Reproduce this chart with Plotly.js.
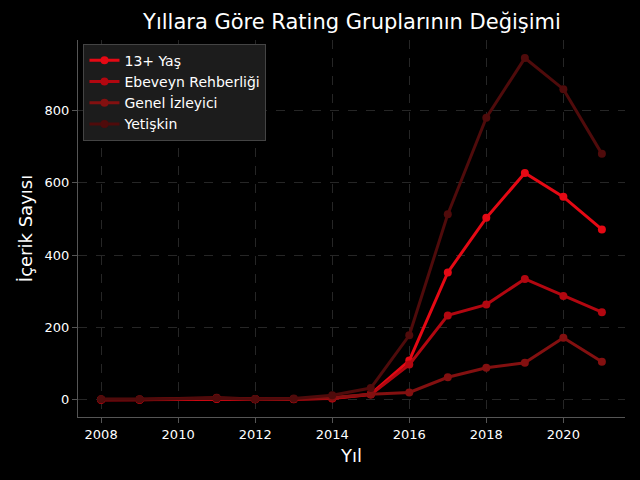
<!DOCTYPE html>
<html>
<head>
<meta charset="utf-8">
<script src="https://cdn.plot.ly/plotly-3.0.1.min.js"></script>
<style>body{margin:0;background:#000}</style>
</head>
<body>
<div id="chart" style="width:640px;height:480px"></div>
<script>
const years = [2008, 2009, 2011, 2012, 2013, 2014, 2015, 2016, 2017, 2018, 2019, 2020, 2021];
const teen = [0, 0, 2, 1, 1, 4, 15, 108, 352, 503, 627, 561, 471];
const parental = [0, 0, 3, 1, 2, 3, 14, 97, 233, 263, 334, 287, 242];
const general = [1, 1, 5, 2, 2, 6, 15, 20, 62, 88, 102, 171, 105];
const adult = [1, 1, 4, 2, 3, 12, 32, 178, 513, 780, 945, 859, 680];

const names = ['13+ Yaş', 'Ebeveyn Rehberliği', 'Genel İzleyici', 'Yetişkin'];
const series = [teen, parental, general, adult];
const colors = ['#e50914', '#b20710', '#831010', '#4f0b0b'];

const data = series.map((s, i) => ({
    x: years, y: s, name: names[i], type: 'scatter', mode: 'lines+markers',
    line: {color: colors[i], width: 3}, marker: {color: colors[i], size: 8}
}));

const grid = {showgrid: true, gridcolor: '#262626', griddash: 'dash', zeroline: false,
    color: '#fff', showline: true, linecolor: '#555', ticks: 'outside', tickcolor: '#555',
    tickfont: {size: 13, color: '#fff'}};

Plotly.newPlot('chart', data, {
    width: 640, height: 480,
    paper_bgcolor: '#000', plot_bgcolor: '#000',
    font: {family: 'DejaVu Sans', color: '#fff'},
    margin: {l: 78, r: 15, t: 40, b: 63},
    title: {text: 'Yıllara Göre Rating Gruplarının Değişimi', x: 0.55, y: 0.97, font: {size: 21}},
    xaxis: Object.assign({}, grid, {title: {text: 'Yıl', font: {size: 18}, standoff: 8}, automargin: false, range: [2007.4, 2021.6], dtick: 2}),
    yaxis: Object.assign({}, grid, {title: {text: 'İçerik Sayısı', font: {size: 18}}, range: [-48, 995], dtick: 200}),
    legend: {x: 0.01, y: 0.99, bgcolor: '#1c1c1c', bordercolor: '#444', borderwidth: 1, font: {size: 14}},
    showlegend: true
}, {displayModeBar: false});
</script>
</body>
</html>
